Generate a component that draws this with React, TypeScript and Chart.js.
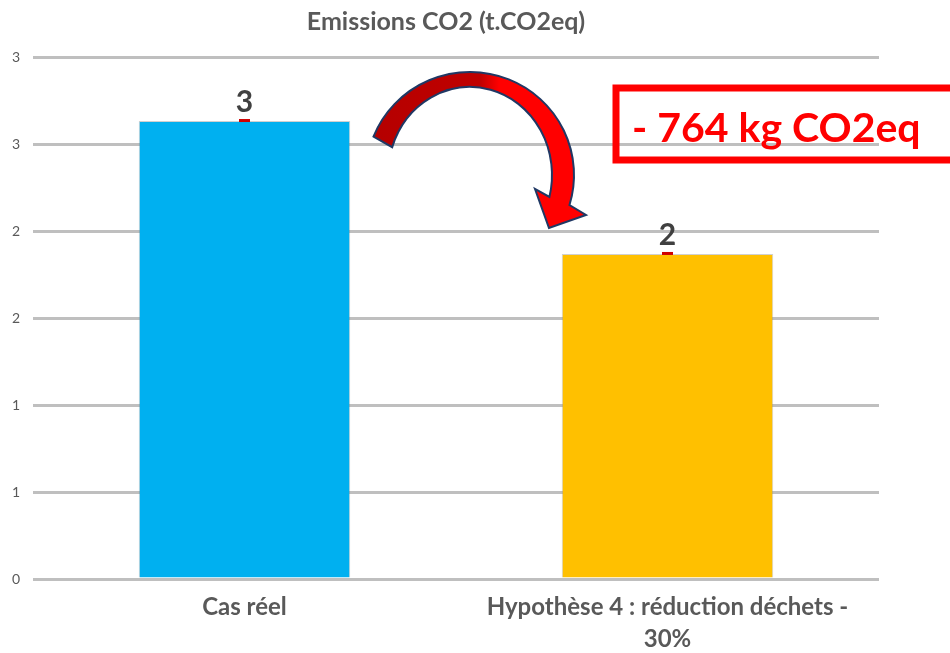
import React, { useEffect, useRef } from "react";
import { Chart, registerables } from "chart.js";

Chart.register(...registerables);

const titleText = "Emissions CO2 (t.CO2eq)";
const categories: (string | string[])[] = ["Cas réel", ["Hypothèse 4 : réduction déchets -", "30%"]];
const emissions = [2.632, 1.868];
const barColors = ["#00B0F0", "#FFC000"];
const yMin = 0;
const yMax = 3;
const yStep = 0.5;
const deltaLabel = "- 764 kg CO2eq";

const FONT = "Lato, 'Open Sans', sans-serif";

const decorPlugin = {
  id: "decor",
  afterDatasetsDraw(chart: any) {
    const ctx = chart.ctx as CanvasRenderingContext2D;
    const { chartArea } = chart;
    const meta = chart.getDatasetMeta(0);
    const xs = chart.scales.x;
    const ys = chart.scales.y;

    // title
    ctx.save();
    ctx.fillStyle = "#595959";
    ctx.font = `bold 25px ${FONT}`;
    ctx.textAlign = "center";
    ctx.textBaseline = "alphabetic";
    ctx.fillText(titleText, (chartArea.left + chartArea.right) / 2 - 10, 30);
    ctx.restore();

    // value labels + tiny error marks
    meta.data.forEach((bar: any, i: number) => {
      const v = emissions[i];
      ctx.save();
      ctx.fillStyle = "#D00000";
      ctx.fillRect(bar.x - 5.5, bar.y - 2, 11, 3);
      ctx.fillStyle = "#404040";
      ctx.font = `bold 30px ${FONT}`;
      ctx.textAlign = "center";
      ctx.textBaseline = "alphabetic";
      ctx.fillText(String(Math.round(v)), bar.x, bar.y - 9);
      ctx.restore();
    });

    // curved arrow
    const mid = (xs.getPixelForValue(0) + xs.getPixelForValue(1)) / 2;
    const cx = mid + 14;
    const cy = ys.getPixelForValue(emissions[1]) - 79;
    const tipY = ys.getPixelForValue(2) - 3;
    ctx.save();
    const grad = ctx.createLinearGradient(cx - 104, 0, cx + 104, 0);
    grad.addColorStop(0, "#B40000");
    grad.addColorStop(0.55, "#C00000");
    grad.addColorStop(0.64, "#FF0000");
    grad.addColorStop(1, "#FF0000");
    ctx.beginPath();
    ctx.ellipse(cx, cy, 104, 103, 0, -2.76, 0.296, false);
    ctx.lineTo(cx + 116, tipY - 13);
    ctx.lineTo(cx + 79, tipY);
    ctx.lineTo(cx + 65, tipY - 39);
    ctx.ellipse(cx, cy, 82, 88, 0, 0.2527, -2.82, true);
    ctx.closePath();
    ctx.fillStyle = grad;
    ctx.fill();
    ctx.lineWidth = 2;
    ctx.strokeStyle = "#203864";
    ctx.lineJoin = "miter";
    ctx.stroke();
    ctx.restore();

    // delta box
    ctx.save();
    ctx.strokeStyle = "#FF0000";
    ctx.lineWidth = 7;
    ctx.strokeRect(616, 88, 360, 72);
    ctx.fillStyle = "#FF0000";
    ctx.font = `bold 41px ${FONT}`;
    ctx.textAlign = "left";
    ctx.textBaseline = "alphabetic";
    ctx.fillText(deltaLabel, 632, 142);
    ctx.restore();
  },
};

export default function App() {
  const ref = useRef<HTMLCanvasElement>(null);
  useEffect(() => {
    if (!ref.current) return;
    const chart = new Chart(ref.current, {
      type: "bar",
      data: {
        labels: categories,
        datasets: [
          {
            data: emissions,
            backgroundColor: barColors,
            borderColor: "rgba(120,120,120,0.35)",
            borderWidth: 1,
            barPercentage: 0.5,
            categoryPercentage: 1,
          },
        ],
      },
      options: {
        responsive: false,
        animation: false,
        layout: { padding: { top: 57, right: 71, left: 0, bottom: 0 } },
        plugins: {
          legend: { display: false },
          title: { display: false },
          tooltip: { enabled: false },
        },
        scales: {
          x: {
            grid: { display: false, drawTicks: false },
            border: { display: false },
            ticks: {
              color: "#595959",
              padding: 12,
              font: { family: FONT, size: 24, weight: "bold", lineHeight: 1.35 },
              maxRotation: 0,
              autoSkip: false,
            },
            afterFit(scale: any) {
              scale.height = 74;
            },
          },
          y: {
            min: yMin,
            max: yMax,
            grid: { color: "#BFBFBF", lineWidth: 3, drawTicks: false },
            border: { display: false },
            ticks: {
              stepSize: yStep,
              color: "#595959",
              padding: 13,
              font: { family: FONT, size: 14 },
              callback: (v: any) => String(Math.round(Number(v))),
            },
            afterFit(scale: any) {
              scale.width = 33;
            },
          },
        },
      },
      plugins: [decorPlugin],
    });
    return () => chart.destroy();
  }, []);
  return (
    <div style={{ position: "fixed", left: 0, top: 0, width: 950, height: 653, background: "#fff" }}>
      <canvas ref={ref} width={950} height={653} />
    </div>
  );
}
